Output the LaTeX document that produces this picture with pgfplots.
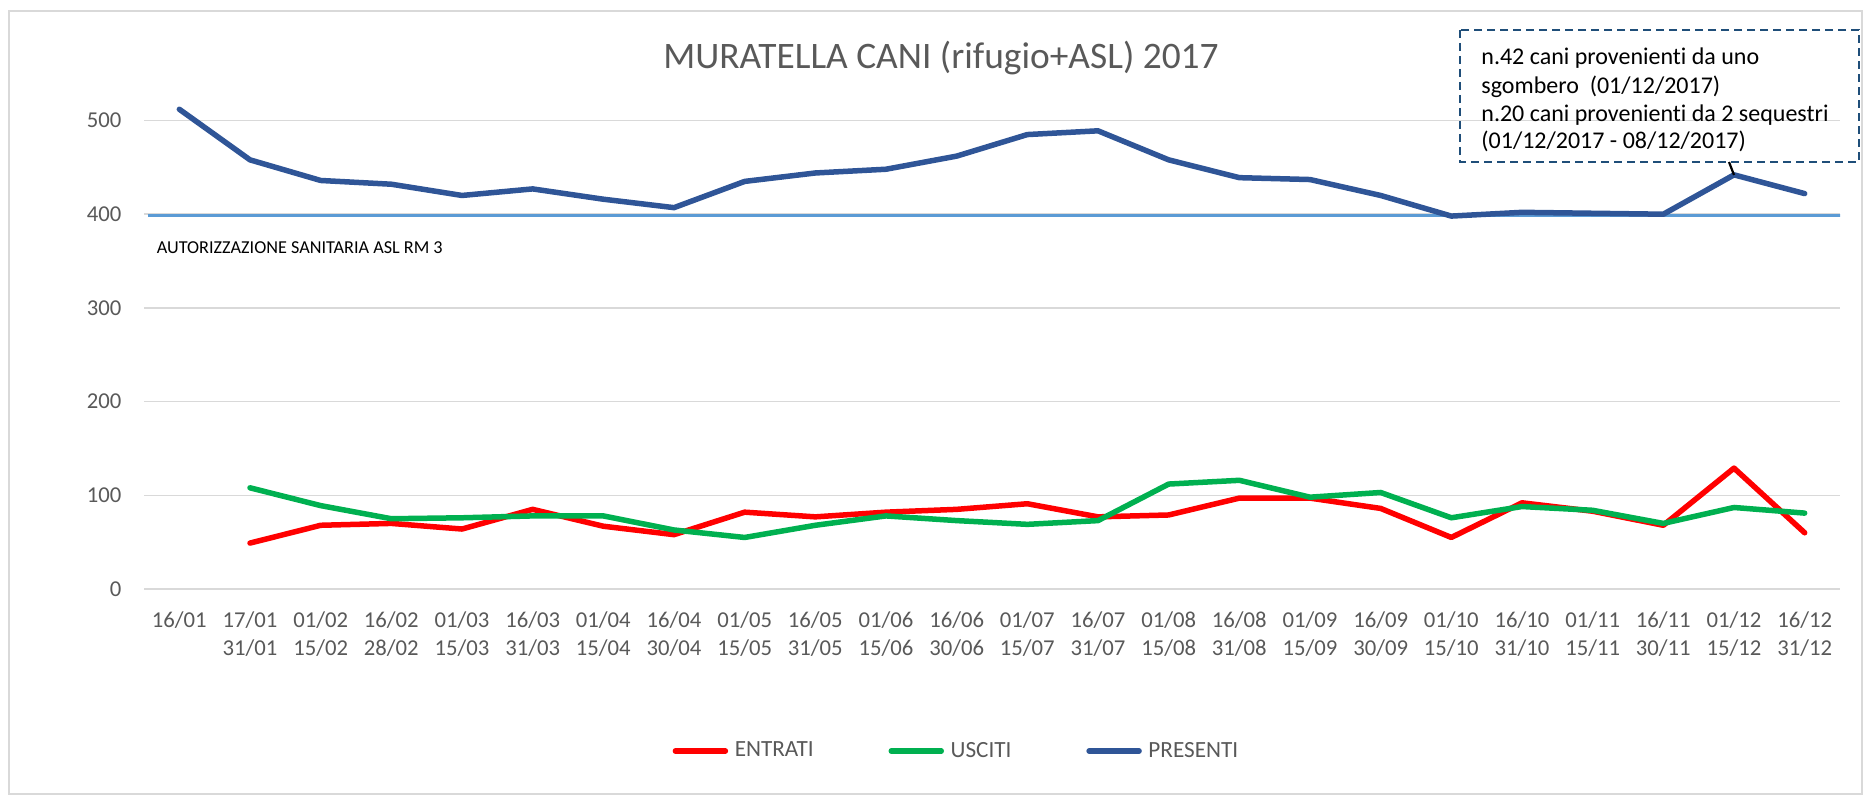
\documentclass[border=0pt]{standalone}
\usepackage{fontspec}
\setmainfont{Carlito}[Ligatures={NoCommon}]
\usepackage{pgfplots}
\pgfplotsset{compat=1.18}
\definecolor{txtgray}{HTML}{595959}
\definecolor{gridgray}{HTML}{D9D9D9}
\definecolor{cred}{HTML}{FF0000}
\definecolor{cgreen}{HTML}{00B050}
\definecolor{cblue}{HTML}{2F5597}
\definecolor{lblue}{HTML}{5B9BD5}
\definecolor{boxblue}{HTML}{1F4E79}
\newcommand{\tl}[2]{\begin{tabular}[t]{@{}c@{}}#1\\#2\end{tabular}}
\begin{document}
\begin{tikzpicture}
\useasboundingbox (-72bp,-103bp) rectangle (862bp,294.5bp);
\draw[gridgray, line width=0.6bp] (-67.5bp,-102.5bp) rectangle (859bp,289bp);
\begin{axis}[
  at={(0bp,0bp)}, anchor=south west,
  scale only axis, width=848bp, height=281.1bp,
  xmin=-0.5, xmax=23.5, ymin=0, ymax=600,
  axis line style={draw=none},
  major tick length=0pt,
  ytick={0,100,200,300,400,500},
  yticklabels={0,100,200,300,400,500},
  ymajorgrids, grid style={gridgray, line width=0.75bp},
  xtick={0,...,23},
  xticklabels={{16/01},\tl{17/01}{31/01},\tl{01/02}{15/02},\tl{16/02}{28/02},\tl{01/03}{15/03},\tl{16/03}{31/03},\tl{01/04}{15/04},\tl{16/04}{30/04},\tl{01/05}{15/05},\tl{16/05}{31/05},\tl{01/06}{15/06},\tl{16/06}{30/06},\tl{01/07}{15/07},\tl{16/07}{31/07},\tl{01/08}{15/08},\tl{16/08}{31/08},\tl{01/09}{15/09},\tl{16/09}{30/09},\tl{01/10}{15/10},\tl{16/10}{31/10},\tl{01/11}{15/11},\tl{16/11}{30/11},\tl{01/12}{15/12},\tl{16/12}{31/12}},
  tick label style={font=\fontsize{11.35bp}{14.2bp}\selectfont, text=txtgray},
  xticklabel style={anchor=base, inner sep=0pt, yshift=-19.15bp},
  yticklabel style={anchor=east, inner sep=0pt, xshift=-11.15bp},
  legend columns=3,
  legend style={draw=none, fill=none, at={(0.3117,-0.2882)}, anchor=west,
    inner sep=0pt, outer sep=0pt,
    font=\fontsize{11.6bp}{14bp}\selectfont, text=txtgray,
    nodes={inner sep=0pt},
    /tikz/every odd column/.append style={column sep=3.3bp},
    /tikz/every even column/.append style={column sep=37.4bp}},
  legend image code/.code={\draw[line width=2.75bp, line cap=round] (0bp,0bp) -- (25bp,0bp);},
  every axis plot/.append style={line width=2.75bp, line join=round, line cap=round, mark=none},
]
\addplot[cred] coordinates {
(1,49) (2,68) (3,70) (4,64) (5,85) (6,67) (7,58) (8,82) (9,77) (10,82) (11,85) (12,91)
(13,77) (14,79) (15,97) (16,97) (17,86) (18,55) (19,92) (20,83) (21,68) (22,129) (23,60)};
\addlegendentry{ENTRATI}
\addplot[cgreen] coordinates {
(1,108) (2,89) (3,75) (4,76) (5,78) (6,78) (7,63) (8,55) (9,68) (10,78) (11,73) (12,69)
(13,73) (14,112) (15,116) (16,98) (17,103) (18,76) (19,88) (20,84) (21,70) (22,87) (23,81)};
\addlegendentry{USCITI}
\addplot[lblue, line width=1.5bp, line cap=butt, forget plot] coordinates {(-0.45,398.5) (23.55,398.5)};
\addplot[cblue] coordinates {
(0,512) (1,458) (2,436) (3,432) (4,420) (5,427) (6,416) (7,407) (8,435) (9,444) (10,448) (11,462)
(12,485) (13,489) (14,458) (15,439) (16,437) (17,420) (18,398) (19,402) (20,401) (21,400) (22,442) (23,422)};
\addlegendentry{PRESENTI}
\end{axis}
\node[anchor=base, inner sep=0pt, font=\fontsize{18.7bp}{22bp}\selectfont, text=txtgray] at (398.5bp,260.15bp) {MURATELLA CANI (rifugio+ASL) 2017};
\node[anchor=base west, inner sep=0pt, font=\fontsize{9.1bp}{11bp}\selectfont] at (6.25bp,167.5bp) {AUTORIZZAZIONE SANITARIA ASL RM 3};
\draw[boxblue, line width=1bp, dash pattern=on 4bp off 2.5bp] (658bp,279.5bp) rectangle (857.5bp,213.5bp);
\draw[black, line width=1.1bp] (792.5bp,213.5bp) -- (795bp,207bp);
\begin{scope}[every node/.style={anchor=base west, inner sep=0pt, font=\fontsize{12bp}{14bp}\selectfont}]
\node at (668.5bp,262.4bp) {n.42 cani provenienti da uno};
\node at (668.5bp,247.5bp) {sgombero\ \ (01/12/2017)};
\node at (668.5bp,233.7bp) {n.20 cani provenienti da 2 sequestri};
\node at (668.5bp,220bp) {(01/12/2017 - 08/12/2017)};
\end{scope}
\end{tikzpicture}
\end{document}
